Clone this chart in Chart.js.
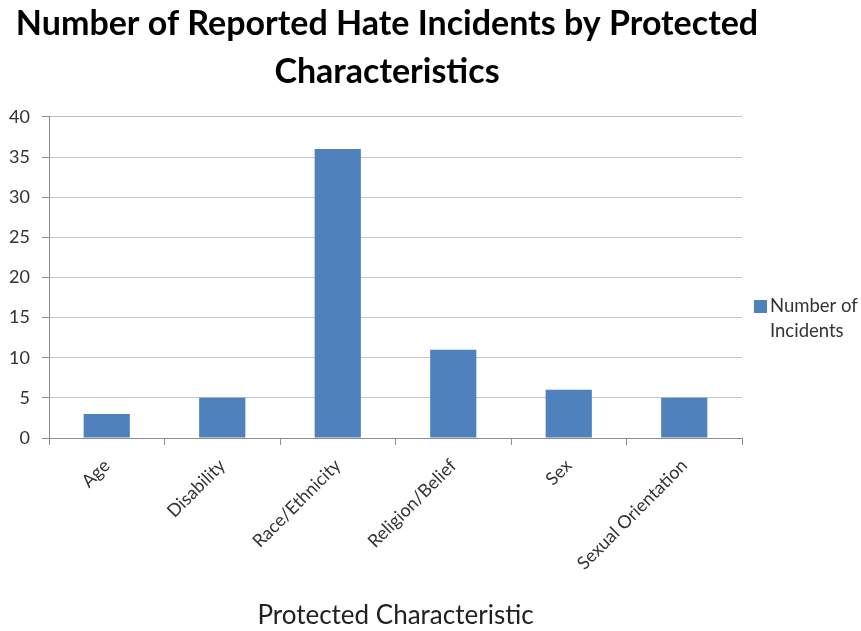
<!DOCTYPE html>
<html lang="en">
<head>
  <meta charset="UTF-8" />
  <title>Number of Reported Hate Incidents by Protected Characteristics</title>
  <style>
    html, body {
      margin: 0;
      padding: 0;
      background: #fff;
    }
    #chart {
      display: block;
    }
  </style>
</head>
<body>

<canvas id="chart" width="861" height="631"></canvas>

<script src="https://cdn.jsdelivr.net/npm/chart.js"></script>
<script>
  const categories = ['Age', 'Disability', 'Race/Ethnicity', 'Religion/Belief', 'Sex', 'Sexual Orientation'];
  const incidents = [3, 5, 36, 11, 6, 5];
  const seriesName = 'Number of Incidents';
  const legendLines = ['Number of', 'Incidents'];
  const titleLines = ['Number of Reported Hate Incidents by Protected', 'Characteristics'];
  const xTitle = 'Protected Characteristic';

  const barColor = '#4f81bd';
  const textFont = 'Lato, "Open Sans", sans-serif';

  // legend on the right, with the label wrapped over two lines
  const sideLegend = {
    id: 'sideLegend',
    afterDraw(chart) {
      const c = chart.ctx;
      const area = chart.chartArea;
      const x = area.right + 12;
      const y = 300;
      c.save();
      c.fillStyle = barColor;
      c.fillRect(x, y, 13, 13);
      c.fillStyle = '#333';
      c.font = '18.5px ' + textFont;
      c.textBaseline = 'middle';
      legendLines.forEach((line, i) => {
        c.fillText(line, x + 16, y + 6 + i * 25);
      });
      c.restore();
    }
  };

  const ctx = document.getElementById('chart').getContext('2d');
  new Chart(ctx, {
    type: 'bar',
    data: {
      labels: categories,
      datasets: [{
        label: seriesName,
        data: incidents,
        backgroundColor: barColor,
        borderWidth: 0,
        barPercentage: 0.4,
        categoryPercentage: 1.0
      }]
    },
    options: {
      responsive: false,
      animation: false,
      layout: {
        padding: { left: 0, right: 87, top: 0, bottom: 0 }
      },
      scales: {
        y: {
          min: 0,
          max: 40,
          afterFit(scale) {
            scale.width = 49;
          },
          ticks: {
            stepSize: 5,
            color: '#333',
            padding: 12,
            font: { family: textFont, size: 18 }
          },
          grid: {
            color: '#c4c4c4',
            tickColor: '#8c8c8c',
            tickLength: 7
          },
          border: { color: '#8c8c8c' }
        },
        // empty right-hand strip that keeps room for the legend
        spacer: {
          type: 'linear',
          position: 'right',
          afterFit(scale) {
            scale.width = 32;
          },
          ticks: { display: false },
          grid: { display: false },
          border: { display: false }
        },
        x: {
          afterFit(scale) {
            scale.height = 193;
          },
          ticks: {
            color: '#333',
            minRotation: 45,
            maxRotation: 45,
            padding: 10,
            font: { family: textFont, size: 18 }
          },
          grid: {
            offset: true,
            drawOnChartArea: false,
            tickColor: '#8c8c8c',
            tickLength: 7
          },
          border: { color: '#8c8c8c' },
          title: {
            display: true,
            text: xTitle,
            color: '#222',
            padding: { top: 0, bottom: 0 },
            font: { family: textFont, size: 26 }
          }
        }
      },
      plugins: {
        legend: { display: false },
        tooltip: { enabled: false },
        title: {
          display: true,
          text: titleLines,
          color: '#000',
          padding: { top: 0, bottom: 21 },
          font: { family: textFont, size: 34, weight: 'bold', lineHeight: 1.41 }
        }
      }
    },
    plugins: [sideLegend]
  });
</script>

</body>
</html>
